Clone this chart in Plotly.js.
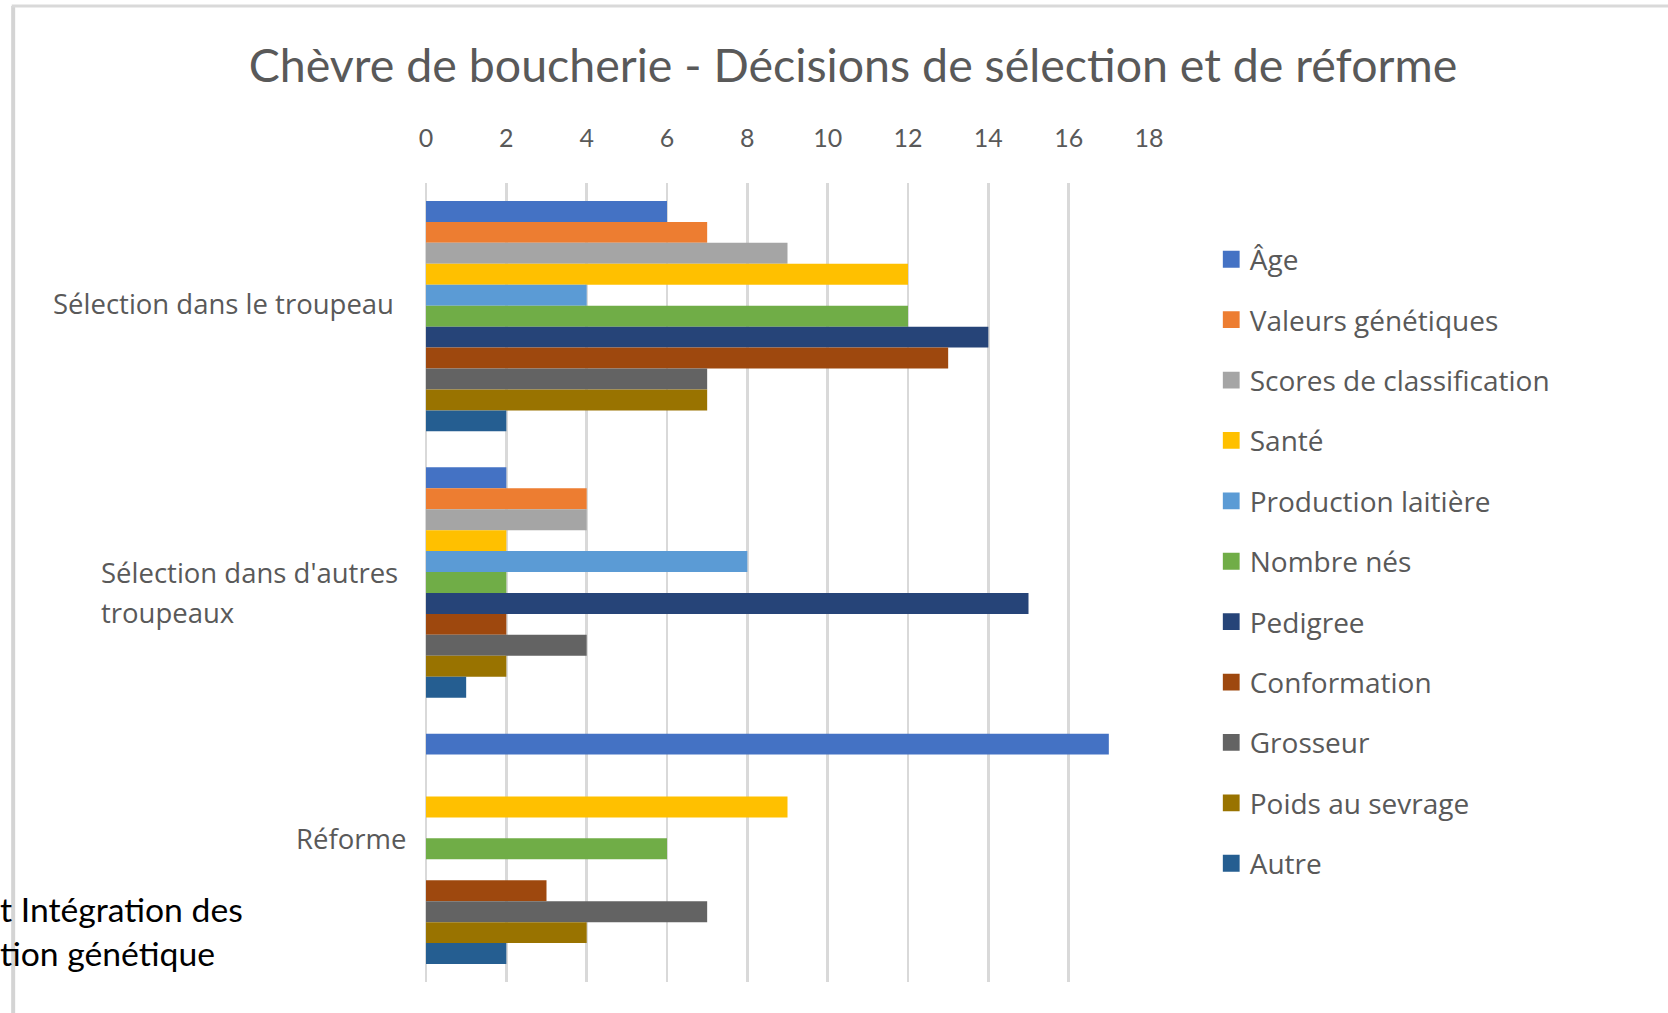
<!DOCTYPE html>
<html>
<head>
<meta charset="utf-8">
<script src="https://cdn.plot.ly/plotly-3.0.1.min.js"></script>
<style>
  html, body { margin: 0; padding: 0; background: #ffffff; }
  #chart { width: 1668px; height: 1013px; }
</style>
</head>
<body>
<div id="chart"></div>
<script>
// ---- Data ----
const categories = ["Sélection dans le troupeau", "Sélection dans d'autres troupeaux", "Réforme"];
const categoryLabels = ["Sélection dans le troupeau", "Sélection dans d'autres<br>troupeaux", "Réforme"];
const seriesNames = ["Âge", "Valeurs génétiques", "Scores de classification", "Santé", "Production laitière",
  "Nombre nés", "Pedigree", "Conformation", "Grosseur", "Poids au sevrage", "Autre"];
const age                 = [6, 2, 17];
const valeursGenetiques   = [7, 4, 0];
const scoresClassification= [9, 4, 0];
const sante               = [12, 2, 9];
const productionLaitiere  = [4, 8, 0];
const nombreNes           = [12, 2, 6];
const pedigree            = [14, 15, 0];
const conformation        = [13, 2, 3];
const grosseur            = [7, 4, 7];
const poidsSevrage        = [7, 2, 4];
const autre               = [2, 1, 2];
const seriesValues = [age, valeursGenetiques, scoresClassification, sante, productionLaitiere,
  nombreNes, pedigree, conformation, grosseur, poidsSevrage, autre];
const xTickValues = [0, 2, 4, 6, 8, 10, 12, 14, 16, 18];
const titleText = "Chèvre de boucherie - Décisions de sélection et de réforme";
const overlayText = "t Intégration des<br>tion génétique";

// ---- Styles ----
const colors = ["#4472C4", "#ED7D31", "#A5A5A5", "#FFC000", "#5B9BD5", "#70AD47",
  "#264478", "#9E480E", "#636363", "#997300", "#255E91"];
const labelYShift = [13, -10, 10];
const labelXShift = [-5, -3.5, 7];
const labelLineSpacing = 40;
const grey = "#595959";

const traces = seriesNames.map((name, i) => ({
  type: "bar",
  orientation: "h",
  name: name,
  legendgroup: "g" + i,
  y: categories,
  x: seriesValues[i],
  marker: { color: colors[i], line: { width: 0 } },
  hoverinfo: "x+name"
}));

const annotations = [];
const multiIdx = {};
categories.forEach((c, i) => {
  const lines = categoryLabels[i].split("<br>");
  const n = lines.length;
  lines.forEach((ln, k) => {
    if (n > 1) { (multiIdx[i] = multiIdx[i] || []).push(annotations.length); }
    annotations.push({
      xref: "paper", yref: "y",
      x: -0.0343, y: c,
      xanchor: n > 1 ? "left" : "right", yanchor: "middle", align: "left",
      text: ln,
      showarrow: false,
      xshift: labelXShift[i],
      yshift: labelYShift[i] - (k - (n - 1) / 2) * labelLineSpacing,
      font: { family: "Open Sans", size: 27.5, color: grey }
    });
  });
});
annotations.push({
  xref: "paper", yref: "paper",
  x: -0.592, y: 0.0634,
  xanchor: "left", yanchor: "middle", align: "left",
  text: overlayText, showarrow: false,
  font: { family: "Lato", size: 33.7, color: "#000000" }
});

const layout = {
  width: 1668, height: 1013,
  margin: { l: 426, r: 519, t: 183, b: 31, pad: 0 },
  paper_bgcolor: "#ffffff", plot_bgcolor: "#ffffff",
  barmode: "group", bargap: 0.135, bargroupgap: 0,
  title: {
    text: titleText,
    font: { family: "Lato", size: 46.5, color: grey },
    xref: "container", x: 0.5114, xanchor: "center",
    yref: "container", y: 0.9355, yanchor: "middle"
  },
  xaxis: {
    side: "top", range: [0, 18], tickvals: xTickValues,
    showgrid: true, gridcolor: "#d9d9d9", gridwidth: 2.5,
    zeroline: true, zerolinecolor: "#d9d9d9", zerolinewidth: 2.5,
    showline: false, ticks: "", ticklabelstandoff: 30,
    tickfont: { family: "Lato", size: 25, color: grey },
    fixedrange: true
  },
  yaxis: {
    type: "category", categoryorder: "array", categoryarray: categories,
    autorange: "reversed", showticklabels: false, showgrid: false,
    zeroline: false, showline: false, ticks: "", fixedrange: true
  },
  legend: {
    x: 1.084, xanchor: "left", y: 0.9355, yanchor: "top",
    traceorder: "grouped", tracegroupgap: 21,
    font: { family: "Open Sans", size: 28, color: grey },
    bgcolor: "rgba(0,0,0,0)", itemclick: false, itemdoubleclick: false
  },
  annotations: annotations,
  shapes: [
    { type: "line", xref: "paper", yref: "paper", x0: -0.571, x1: -0.571, y0: -0.05, y1: 1.2215,
      line: { color: "#d4d4d4", width: 4 } },
    { type: "line", xref: "paper", yref: "paper", x0: -0.573, x1: 1.75, y0: 1.2215, y1: 1.2215,
      line: { color: "#d9d9d9", width: 3 } }
  ],
  showlegend: true
};

const gd = document.getElementById("chart");
Plotly.newPlot(gd, traces, layout, { displayModeBar: false, staticPlot: true }).then(() => {
  // left-align multi-line category labels so the longest line ends at the shared right anchor
  const nodes = gd.querySelectorAll(".annotation");
  const updates = {};
  Object.keys(multiIdx).forEach(i => {
    let maxW = 0;
    multiIdx[i].forEach(j => { const t = nodes[j] && nodes[j].querySelector("text"); if (t) maxW = Math.max(maxW, t.getBBox().width); });
    multiIdx[i].forEach(j => { updates["annotations[" + j + "].xshift"] = labelXShift[i] - maxW - 2; });
  });
  return Plotly.relayout(gd, updates);
}).then(() => {
  // slightly larger legend swatches, as in the reference
  gd.querySelectorAll(".legendpoints path").forEach(p => {
    const t = p.getAttribute("transform") || "";
    p.setAttribute("transform", t + " translate(1.5,0) scale(1.4)");
  });
});
</script>
</body>
</html>
